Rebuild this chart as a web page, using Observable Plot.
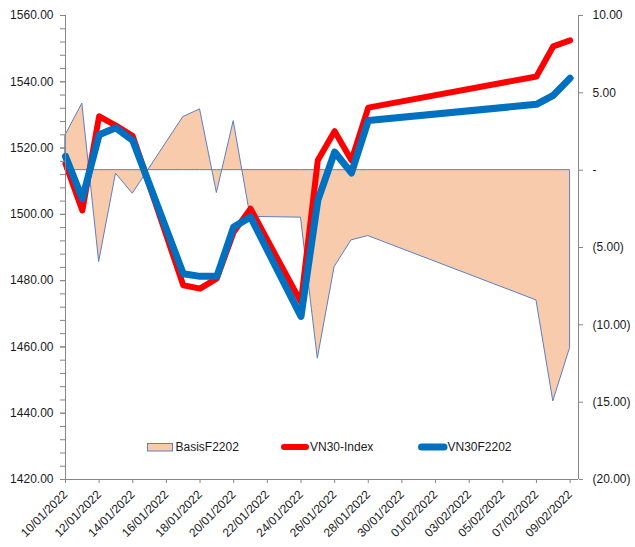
<!DOCTYPE html>
<html><head><meta charset="utf-8">
<script src="https://cdn.jsdelivr.net/npm/d3@7"></script>
<script src="https://cdn.jsdelivr.net/npm/@observablehq/plot@0.6"></script>
<style>body{margin:0;background:#fff}</style>
</head><body><div id="chart"></div>
<script>
// ---- data ----
const dates = ["2022-01-10","2022-01-11","2022-01-12","2022-01-13","2022-01-14","2022-01-17","2022-01-18","2022-01-19","2022-01-20","2022-01-21","2022-01-24","2022-01-25","2022-01-26","2022-01-27","2022-01-28","2022-02-07","2022-02-08","2022-02-09"];
const vn30Index = [1515.3,1501.2,1529.6,1526.8,1523.6,1478.6,1477.6,1480.7,1494.7,1501.7,1473.5,1516.3,1525.1,1516.3,1532.2,1541.6,1550.7,1552.5];
const vn30F2202 = [1517.5,1504.7,1524.0,1526.1,1522.3,1482.1,1481.3,1481.3,1496.2,1499.2,1469.2,1504.2,1518.8,1512.5,1528.3,1533.2,1535.9,1541.1];
const basisF2202 = [2.25,4.30,-5.94,-0.23,-1.52,3.43,3.93,-1.48,3.17,-3.02,-3.07,-12.19,-6.26,-4.54,-4.26,-8.42,-14.95,-11.5];
const xTickLabels = ["10/01/2022","12/01/2022","14/01/2022","16/01/2022","18/01/2022","20/01/2022","22/01/2022","24/01/2022","26/01/2022","28/01/2022","30/01/2022","01/02/2022","03/02/2022","05/02/2022","07/02/2022","09/02/2022"];
const leftTicks = [1420,1440,1460,1480,1500,1520,1540,1560];
const rightTicks = [-20,-15,-10,-5,0,5,10];
const seriesNames = ["BasisF2202","VN30-Index","VN30F2202"];
const colors = {basis:"#F8CBAD", basisLine:"#5B80C2", index:"#FF0000", fut:"#0070C0", axis:"#868686", text:"#1a1a1a"};

// ---- build ----
const parseISO = d3.utcParse("%Y-%m-%d");
const parseDMY = d3.utcParse("%d/%m/%Y");
const fmtDMY = d3.utcFormat("%d/%m/%Y");
const rows = dates.map((d,i)=>({date:parseISO(d), idx:vn30Index[i], fut:vn30F2202[i], basis:basisF2202[i]}));
const tickDates = xTickLabels.map(parseDMY);
const leftDomain = [leftTicks[0], leftTicks[leftTicks.length-1]];
const rightDomain = [rightTicks[0], rightTicks[rightTicks.length-1]];
const toLeft = d3.scaleLinear(rightDomain, leftDomain);
const xStart = rows[0].date;
const xEnd = d3.utcHour.offset(rows[rows.length-1].date, 12);
const minorTicks = d3.range(leftDomain[0], leftDomain[1]+0.001, 4);
const fmtRight = v => { const r = Math.round(toLeft.invert(v)*100)/100; if (Math.abs(r) < 1e-9) return "-"; return r < 0 ? "(" + (-r).toFixed(2) + ")" : r.toFixed(2); };

const chart = Plot.plot({
  width: 635, height: 547,
  marginLeft: 65, marginRight: 57, marginTop: 15, marginBottom: 68,
  style: {fontFamily: "'Liberation Sans', Arial, sans-serif", fontSize: "12px", color: colors.text, background: "#fff"},
  x: {type: "utc", domain: [xStart, xEnd]},
  y: {domain: leftDomain},
  marks: [
    Plot.areaY(rows, {x:"date", y1: d => toLeft(0), y2: d => toLeft(d.basis), fill: colors.basis, stroke: colors.basisLine, strokeWidth: 1}),
    Plot.lineY(rows, {x:"date", y:"idx", stroke: colors.index, strokeWidth: 6, strokeLinejoin:"round", strokeLinecap:"round"}),
    Plot.lineY(rows, {x:"date", y:"fut", stroke: colors.fut, strokeWidth: 7, strokeLinejoin:"round", strokeLinecap:"round"}),
    Plot.ruleX([xStart], {stroke: colors.axis}),
    Plot.ruleX([xEnd], {stroke: colors.axis}),
    Plot.ruleY([leftDomain[0]], {stroke: colors.axis}),
    Plot.axisY({anchor:"left", ticks: minorTicks, tickSize: 5, tickFormat: () => "", stroke: colors.axis}),
    Plot.axisY({anchor:"left", ticks: leftTicks, tickSize: 5, tickPadding: 7, tickFormat: d => d.toFixed(2), stroke: colors.axis, fill: colors.text}),
    Plot.axisY({anchor:"right", ticks: rightTicks.map(toLeft), tickSize: 4, tickPadding: 10, tickFormat: fmtRight, stroke: colors.axis, fill: colors.text}),
    Plot.axisX({ticks: tickDates, tickSize: 4, tickPadding: 9, tickRotate: -45, tickFormat: fmtDMY, stroke: colors.axis, fill: colors.text})
  ]
});
document.getElementById("chart").append(chart);

// ---- legend (inside plot area, bottom) ----
const svg = d3.select(chart);
const lg = svg.append("g").attr("font-family","'Liberation Sans', Arial, sans-serif").attr("font-size","12px").attr("fill",colors.text).attr("text-anchor","start");
const ly = 447;
lg.append("rect").attr("x",147.5).attr("y",443.5).attr("width",25).attr("height",7.5).attr("fill",colors.basis).attr("stroke",colors.basisLine).attr("stroke-width",1);
lg.append("text").attr("x",175.5).attr("y",ly).attr("dy","0.35em").text(seriesNames[0]);
lg.append("line").attr("x1",284).attr("x2",306).attr("y1",ly).attr("y2",ly).attr("stroke",colors.index).attr("stroke-width",6).attr("stroke-linecap","round");
lg.append("text").attr("x",310).attr("y",ly).attr("dy","0.35em").text(seriesNames[1]);
lg.append("line").attr("x1",421.5).attr("x2",444).attr("y1",ly).attr("y2",ly).attr("stroke",colors.fut).attr("stroke-width",7).attr("stroke-linecap","round");
lg.append("text").attr("x",447.5).attr("y",ly).attr("dy","0.35em").text(seriesNames[2]);
</script>
</body></html>
